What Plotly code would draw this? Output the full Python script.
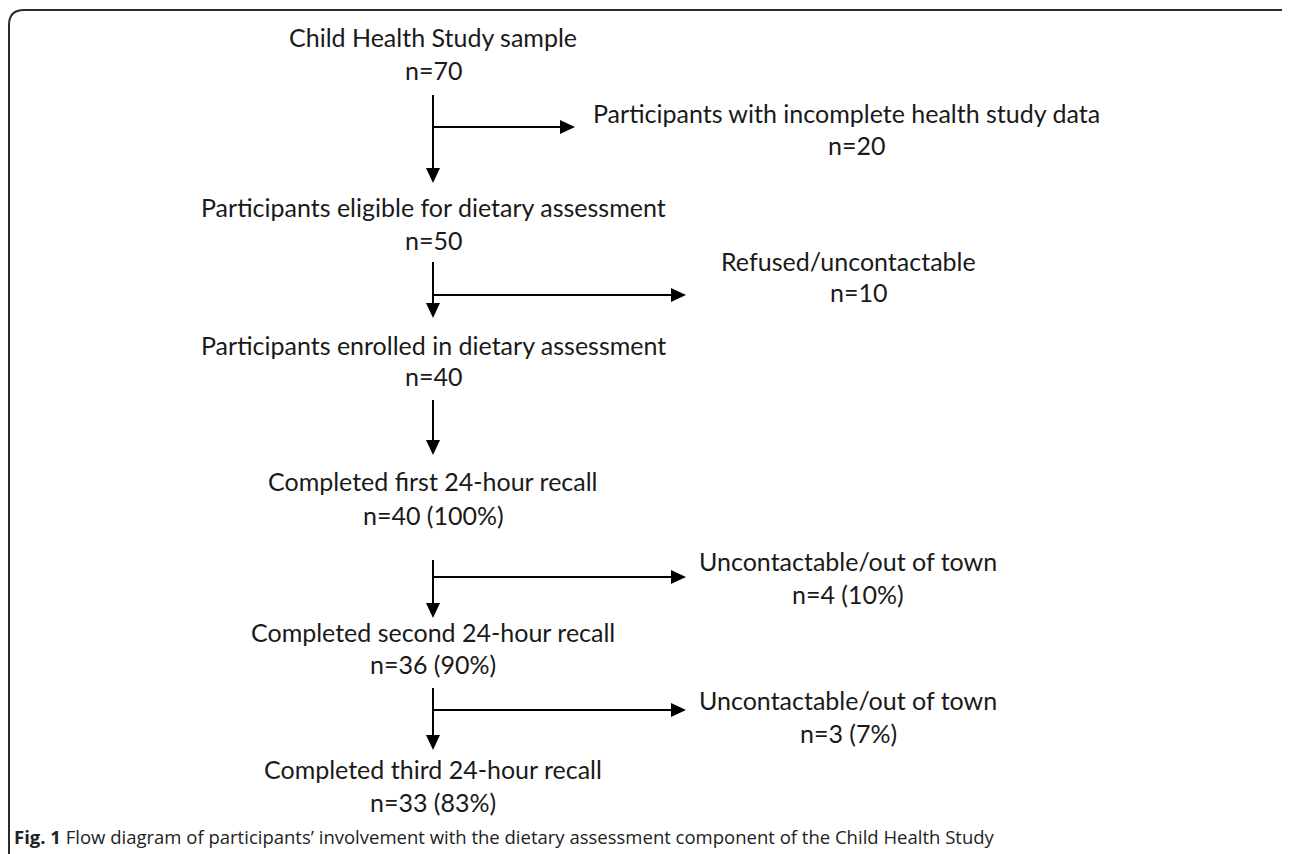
import plotly.graph_objects as go

# ---------------- data ----------------
stage_labels = [
    "Child Health Study sample",
    "Participants eligible for dietary assessment",
    "Participants enrolled in dietary assessment",
    "Completed first 24-hour recall",
    "Completed second 24-hour recall",
    "Completed third 24-hour recall",
]
stage_n = [70, 50, 40, 40, 36, 33]
stage_pct = [None, None, None, 100, 90, 83]

excl_labels = [
    "Participants with incomplete health study data",
    "Refused/uncontactable",
    None,
    "Uncontactable/out of town",
    "Uncontactable/out of town",
]
excl_n = [20, 10, None, 4, 3]
excl_pct = [None, None, None, 10, 7]

caption_bold = "Fig. 1"
caption_text = "Flow diagram of participants\u2019 involvement with the dietary assessment component of the Child Health Study"

# ---------------- layout constants ----------------
W, H = 1290, 854
OFF = 8  # page body margin
CX = 433
FONT = "Lato"
FS = 25
TXT = "#1a1a1a"
stage_title_y = [37, 207, 345, 481, 632, 769]
stage_n_y = [70, 240, 376, 515, 664, 802]
arrow_top = [95, 262, 400, 560, 688]
arrow_tip = [183, 318, 455, 618, 750]
branch_y = [127, 295, None, 577, 710]
branch_tip = [575, 686, None, 686, 686]
excl_title_xy = [(846, 113), (848, 261), None, (848, 561), (848, 700)]
excl_n_xy = [(856, 145), (858, 292), None, (848, 594), (848, 733)]


def count_text(n, p):
    return f"n={n}" if p is None else f"n={n} ({p}%)"


fig = go.Figure()
shapes = []
annotations = []

# frame
shapes.append(dict(type="path", xref="x", yref="y",
                   path=f"M 9 {H+5} L 9 25 Q 9 10 24 10 L 1282 10 Q 1297 10 1297 25 L 1297 {H+5}",
                   line=dict(color="#2a2a2a", width=2)))

for i, lab in enumerate(stage_labels):
    annotations.append(dict(x=CX, y=stage_title_y[i], text=lab, showarrow=False,
                            xanchor="center", yanchor="middle",
                            font=dict(family=FONT, size=FS, color=TXT)))
    annotations.append(dict(x=CX, y=stage_n_y[i], text=count_text(stage_n[i], stage_pct[i]),
                            showarrow=False, xanchor="center", yanchor="middle",
                            font=dict(family=FONT, size=FS, color=TXT)))

AH_L, AH_W = 15, 7
for i in range(len(arrow_top)):
    top, tip = arrow_top[i], arrow_tip[i]
    shapes.append(dict(type="line", xref="x", yref="y", x0=CX, x1=CX, y0=top, y1=tip - AH_L + 1,
                       line=dict(color="black", width=2)))
    shapes.append(dict(type="path", xref="x", yref="y",
                       path=f"M {CX-AH_W} {tip-AH_L} L {CX+AH_W} {tip-AH_L} L {CX} {tip} Z",
                       fillcolor="black", line=dict(color="black", width=0)))
    if branch_y[i] is not None:
        by, bt = branch_y[i], branch_tip[i]
        shapes.append(dict(type="line", xref="x", yref="y", x0=CX, x1=bt - AH_L + 1, y0=by, y1=by,
                           line=dict(color="black", width=2)))
        shapes.append(dict(type="path", xref="x", yref="y",
                           path=f"M {bt-AH_L} {by-AH_W} L {bt-AH_L} {by+AH_W} L {bt} {by} Z",
                           fillcolor="black", line=dict(color="black", width=0)))
        tx, ty = excl_title_xy[i]
        nx, ny = excl_n_xy[i]
        annotations.append(dict(x=tx, y=ty, text=excl_labels[i], showarrow=False,
                                xanchor="center", yanchor="middle",
                                font=dict(family=FONT, size=FS, color=TXT)))
        annotations.append(dict(x=nx, y=ny, text=count_text(excl_n[i], excl_pct[i]),
                                showarrow=False, xanchor="center", yanchor="middle",
                                font=dict(family=FONT, size=FS, color=TXT)))

annotations.append(dict(x=12, y=836, text=f"<b>{caption_bold}</b> {caption_text}", showarrow=False,
                        xanchor="left", yanchor="middle",
                        font=dict(family="Open Sans", size=18.5, color="#222222")))

fig.update_layout(
    width=W - OFF, height=H - OFF,
    margin=dict(l=0, r=0, t=0, b=0),
    paper_bgcolor="white", plot_bgcolor="white",
    xaxis=dict(range=[OFF, W], visible=False, fixedrange=True),
    yaxis=dict(range=[H, OFF], visible=False, fixedrange=True),
    shapes=shapes, annotations=annotations, showlegend=False,
)
fig.write_html("out.html")
